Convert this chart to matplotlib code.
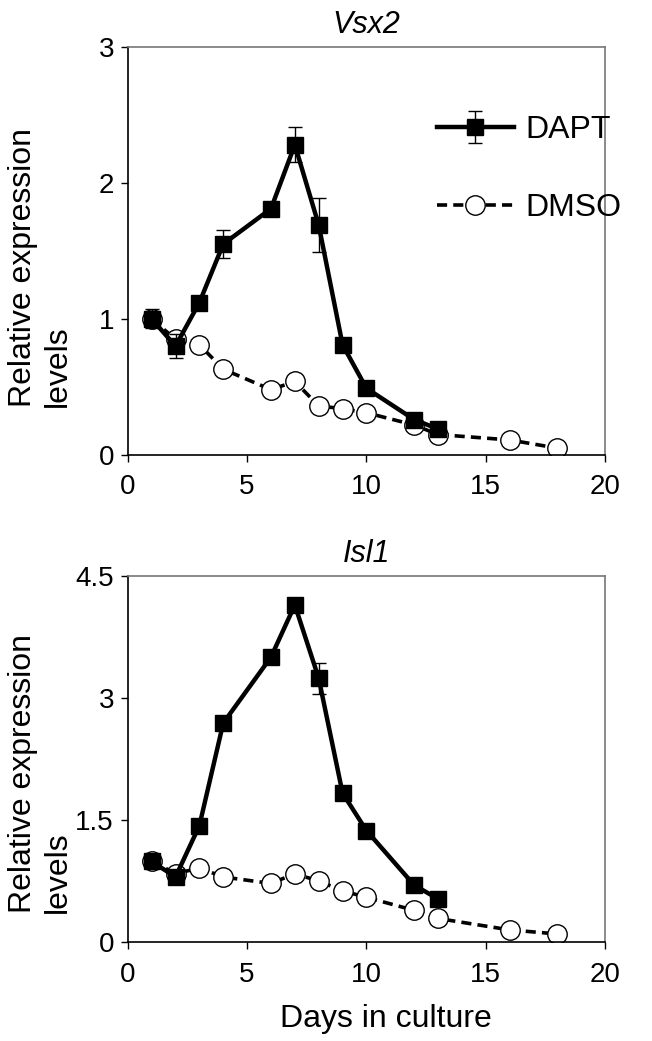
import numpy as np
from matplotlib import pyplot as plt

plt.rcParams['font.family'] = ['Liberation Sans', 'DejaVu Sans']

# Vsx2 panel
vsx2_dapt_days = [1, 2, 3, 4, 6, 7, 8, 9, 10, 12, 13]
vsx2_dapt = [1.00, 0.80, 1.12, 1.55, 1.81, 2.28, 1.69, 0.81, 0.49, 0.26, 0.19]
vsx2_dapt_err = [0.07, 0.09, 0.04, 0.10, 0.03, 0.13, 0.20, 0.03, 0.03, 0.02, 0.02]
vsx2_dmso_days = [1, 2, 3, 4, 6, 7, 8, 9, 10, 12, 13, 16, 18]
vsx2_dmso = [1.00, 0.85, 0.81, 0.63, 0.48, 0.54, 0.36, 0.34, 0.31, 0.22, 0.15, 0.11, 0.05]

# Isl1 panel
isl1_dapt_days = [1, 2, 3, 4, 6, 7, 8, 9, 10, 12, 13]
isl1_dapt = [0.99, 0.80, 1.43, 2.69, 3.50, 4.14, 3.24, 1.83, 1.37, 0.70, 0.53]
isl1_dapt_err = [0.05, 0.05, 0.05, 0.04, 0.04, 0.04, 0.19, 0.04, 0.03, 0.03, 0.02]
isl1_dmso_days = [1, 2, 3, 4, 6, 7, 8, 9, 10, 12, 13, 16, 18]
isl1_dmso = [1.00, 0.84, 0.91, 0.80, 0.72, 0.84, 0.75, 0.63, 0.55, 0.39, 0.29, 0.15, 0.10]

tick_fs = 20
label_fs = 23

fig = plt.figure(figsize=(6.52, 10.41), dpi=100)
ax1 = fig.add_axes([0.196, 0.563, 0.732, 0.392])
ax2 = fig.add_axes([0.196, 0.095, 0.732, 0.352])

def panel(ax, title, dd, dv, de, md, mv, ymax, yticks, ylabels):
    ax.plot(md, mv, color='black', ls=(0, (2.8, 1.7)), lw=2.6, marker='o',
            ms=14, mfc='white', mec='black', mew=1.0, label='DMSO', zorder=2)
    ax.errorbar(dd, dv, yerr=de, color='black', lw=3.2, marker='s', ms=11,
                elinewidth=1.0, capsize=5, capthick=1.0, label='DAPT', zorder=3)
    ax.set_xlim(0, 20)
    ax.set_ylim(0, ymax)
    ax.set_xticks([0, 5, 10, 15, 20])
    ax.set_yticks(yticks)
    ax.set_yticklabels(ylabels)
    ax.tick_params(direction='out', length=5, width=1, labelsize=tick_fs)
    ax.tick_params(axis='x', pad=9)
    ax.tick_params(axis='y', pad=5)
    for s in ['left', 'bottom']:
        ax.spines[s].set_color('black')
        ax.spines[s].set_linewidth(1.2)
    for s in ['top', 'right']:
        ax.spines[s].set_color('#777777')
        ax.spines[s].set_linewidth(1.2)
    ax.set_title(title, fontsize=label_fs - 1, style='italic', pad=10)
    ax.set_ylabel('Relative expression\nlevels', fontsize=label_fs,
                  multialignment='left')
    ax.yaxis.set_label_coords(-0.116, 0.46)

panel(ax1, 'Vsx2', vsx2_dapt_days, vsx2_dapt, vsx2_dapt_err,
      vsx2_dmso_days, vsx2_dmso, 3, [0, 1, 2, 3], ['0', '1', '2', '3'])
panel(ax2, 'Isl1', isl1_dapt_days, isl1_dapt, isl1_dapt_err,
      isl1_dmso_days, isl1_dmso, 4.5, [0, 1.5, 3, 4.5], ['0', '1.5', '3', '4.5'])
ax2.set_xlabel('Days in culture', fontsize=label_fs)
ax2.xaxis.set_label_coords(0.54, -0.168)

h, l = ax1.get_legend_handles_labels()
ax1.legend(h[::-1], l[::-1], loc='center left', bbox_to_anchor=(0.648, 0.70),
           frameon=False, fontsize=label_fs, handlelength=2.4, labelspacing=1.5,
           handletextpad=0.35, borderpad=0, borderaxespad=0)

plt.savefig('out.png', dpi=100)
